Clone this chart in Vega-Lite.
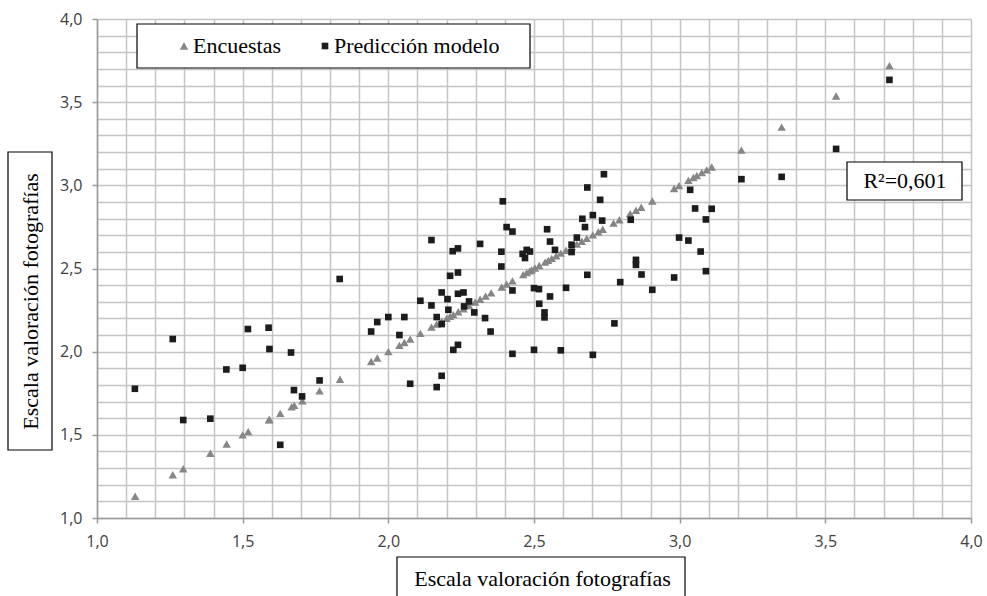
{
  "$schema": "https://vega.github.io/schema/vega-lite/v6.json",
  "width": 874,
  "height": 499,
  "autosize": {"type": "none"},
  "padding": {"left": 97, "top": 19, "right": 16, "bottom": 78},
  "background": "white",
  "config": {
    "view": {"stroke": null},
    "axis": {
      "gridColor": "#c4c4c4",
      "gridWidth": 1.5,
      "domainColor": "#9a9a9a",
      "domainWidth": 1.5,
      "tickColor": "#9a9a9a",
      "tickWidth": 1.5,
      "tickSize": 5,
      "labelFont": "Open Sans",
      "labelFontSize": 16,
      "labelColor": "#404040",
      "titleFont": "Liberation Serif",
      "titleFontSize": 22,
      "titleFontWeight": "normal",
      "titleColor": "#000000"
    }
  },
  "resolve": {"axis": {"x": "independent", "y": "independent"}},
  "datasets": {
    "puntos": [
      {"serie": "Encuestas", "x": 1.131, "y": 1.131},
      {"serie": "Encuestas", "x": 1.26, "y": 1.26},
      {"serie": "Encuestas", "x": 1.296, "y": 1.296},
      {"serie": "Encuestas", "x": 1.389, "y": 1.389},
      {"serie": "Encuestas", "x": 1.445, "y": 1.445},
      {"serie": "Encuestas", "x": 1.5, "y": 1.5},
      {"serie": "Encuestas", "x": 1.519, "y": 1.519},
      {"serie": "Encuestas", "x": 1.59, "y": 1.59},
      {"serie": "Encuestas", "x": 1.592, "y": 1.592},
      {"serie": "Encuestas", "x": 1.629, "y": 1.629},
      {"serie": "Encuestas", "x": 1.668, "y": 1.668},
      {"serie": "Encuestas", "x": 1.677, "y": 1.677},
      {"serie": "Encuestas", "x": 1.705, "y": 1.705},
      {"serie": "Encuestas", "x": 1.764, "y": 1.764},
      {"serie": "Encuestas", "x": 1.834, "y": 1.834},
      {"serie": "Encuestas", "x": 1.941, "y": 1.941},
      {"serie": "Encuestas", "x": 1.962, "y": 1.962},
      {"serie": "Encuestas", "x": 2.0, "y": 2.0},
      {"serie": "Encuestas", "x": 2.038, "y": 2.038},
      {"serie": "Encuestas", "x": 2.055, "y": 2.055},
      {"serie": "Encuestas", "x": 2.075, "y": 2.075},
      {"serie": "Encuestas", "x": 2.11, "y": 2.11},
      {"serie": "Encuestas", "x": 2.148, "y": 2.148},
      {"serie": "Encuestas", "x": 2.166, "y": 2.166},
      {"serie": "Encuestas", "x": 2.183, "y": 2.183},
      {"serie": "Encuestas", "x": 2.2, "y": 2.2},
      {"serie": "Encuestas", "x": 2.212, "y": 2.212},
      {"serie": "Encuestas", "x": 2.223, "y": 2.223},
      {"serie": "Encuestas", "x": 2.24, "y": 2.24},
      {"serie": "Encuestas", "x": 2.258, "y": 2.258},
      {"serie": "Encuestas", "x": 2.277, "y": 2.277},
      {"serie": "Encuestas", "x": 2.298, "y": 2.298},
      {"serie": "Encuestas", "x": 2.315, "y": 2.315},
      {"serie": "Encuestas", "x": 2.334, "y": 2.334},
      {"serie": "Encuestas", "x": 2.353, "y": 2.353},
      {"serie": "Encuestas", "x": 2.389, "y": 2.389},
      {"serie": "Encuestas", "x": 2.406, "y": 2.406},
      {"serie": "Encuestas", "x": 2.426, "y": 2.426},
      {"serie": "Encuestas", "x": 2.463, "y": 2.463},
      {"serie": "Encuestas", "x": 2.475, "y": 2.475},
      {"serie": "Encuestas", "x": 2.486, "y": 2.486},
      {"serie": "Encuestas", "x": 2.492, "y": 2.492},
      {"serie": "Encuestas", "x": 2.503, "y": 2.503},
      {"serie": "Encuestas", "x": 2.518, "y": 2.518},
      {"serie": "Encuestas", "x": 2.538, "y": 2.538},
      {"serie": "Encuestas", "x": 2.549, "y": 2.549},
      {"serie": "Encuestas", "x": 2.561, "y": 2.561},
      {"serie": "Encuestas", "x": 2.576, "y": 2.576},
      {"serie": "Encuestas", "x": 2.592, "y": 2.592},
      {"serie": "Encuestas", "x": 2.61, "y": 2.61},
      {"serie": "Encuestas", "x": 2.63, "y": 2.63},
      {"serie": "Encuestas", "x": 2.647, "y": 2.647},
      {"serie": "Encuestas", "x": 2.664, "y": 2.664},
      {"serie": "Encuestas", "x": 2.681, "y": 2.681},
      {"serie": "Encuestas", "x": 2.702, "y": 2.702},
      {"serie": "Encuestas", "x": 2.721, "y": 2.721},
      {"serie": "Encuestas", "x": 2.736, "y": 2.736},
      {"serie": "Encuestas", "x": 2.773, "y": 2.773},
      {"serie": "Encuestas", "x": 2.793, "y": 2.793},
      {"serie": "Encuestas", "x": 2.83, "y": 2.83},
      {"serie": "Encuestas", "x": 2.85, "y": 2.85},
      {"serie": "Encuestas", "x": 2.868, "y": 2.868},
      {"serie": "Encuestas", "x": 2.906, "y": 2.906},
      {"serie": "Encuestas", "x": 2.981, "y": 2.981},
      {"serie": "Encuestas", "x": 2.998, "y": 2.998},
      {"serie": "Encuestas", "x": 3.03, "y": 3.03},
      {"serie": "Encuestas", "x": 3.047, "y": 3.047},
      {"serie": "Encuestas", "x": 3.059, "y": 3.059},
      {"serie": "Encuestas", "x": 3.076, "y": 3.076},
      {"serie": "Encuestas", "x": 3.093, "y": 3.093},
      {"serie": "Encuestas", "x": 3.11, "y": 3.11},
      {"serie": "Encuestas", "x": 3.212, "y": 3.212},
      {"serie": "Encuestas", "x": 3.35, "y": 3.35},
      {"serie": "Encuestas", "x": 3.537, "y": 3.537},
      {"serie": "Encuestas", "x": 3.72, "y": 3.72},
      {"serie": "Predicción modelo", "x": 1.13, "y": 1.777},
      {"serie": "Predicción modelo", "x": 1.26, "y": 2.076},
      {"serie": "Predicción modelo", "x": 1.296, "y": 1.589},
      {"serie": "Predicción modelo", "x": 1.389, "y": 1.597},
      {"serie": "Predicción modelo", "x": 1.444, "y": 1.893},
      {"serie": "Predicción modelo", "x": 1.5, "y": 1.903},
      {"serie": "Predicción modelo", "x": 1.518, "y": 2.136},
      {"serie": "Predicción modelo", "x": 1.589, "y": 2.144},
      {"serie": "Predicción modelo", "x": 1.592, "y": 2.016},
      {"serie": "Predicción modelo", "x": 1.629, "y": 1.44},
      {"serie": "Predicción modelo", "x": 1.666, "y": 1.995},
      {"serie": "Predicción modelo", "x": 1.676, "y": 1.769},
      {"serie": "Predicción modelo", "x": 1.704, "y": 1.731},
      {"serie": "Predicción modelo", "x": 1.764, "y": 1.827},
      {"serie": "Predicción modelo", "x": 1.833, "y": 2.437},
      {"serie": "Predicción modelo", "x": 1.941, "y": 2.121},
      {"serie": "Predicción modelo", "x": 1.962, "y": 2.178},
      {"serie": "Predicción modelo", "x": 2.0, "y": 2.208},
      {"serie": "Predicción modelo", "x": 2.038, "y": 2.1},
      {"serie": "Predicción modelo", "x": 2.055, "y": 2.208},
      {"serie": "Predicción modelo", "x": 2.075, "y": 1.807},
      {"serie": "Predicción modelo", "x": 2.11, "y": 2.306},
      {"serie": "Predicción modelo", "x": 2.148, "y": 2.671},
      {"serie": "Predicción modelo", "x": 2.148, "y": 2.278},
      {"serie": "Predicción modelo", "x": 2.166, "y": 2.208},
      {"serie": "Predicción modelo", "x": 2.166, "y": 1.787},
      {"serie": "Predicción modelo", "x": 2.183, "y": 2.356},
      {"serie": "Predicción modelo", "x": 2.183, "y": 2.166},
      {"serie": "Predicción modelo", "x": 2.183, "y": 1.855},
      {"serie": "Predicción modelo", "x": 2.203, "y": 2.316},
      {"serie": "Predicción modelo", "x": 2.206, "y": 2.252},
      {"serie": "Predicción modelo", "x": 2.212, "y": 2.456},
      {"serie": "Predicción modelo", "x": 2.221, "y": 2.604},
      {"serie": "Predicción modelo", "x": 2.239, "y": 2.621},
      {"serie": "Predicción modelo", "x": 2.239, "y": 2.476},
      {"serie": "Predicción modelo", "x": 2.223, "y": 2.011},
      {"serie": "Predicción modelo", "x": 2.239, "y": 2.041},
      {"serie": "Predicción modelo", "x": 2.239, "y": 2.348},
      {"serie": "Predicción modelo", "x": 2.258, "y": 2.356},
      {"serie": "Predicción modelo", "x": 2.26, "y": 2.272},
      {"serie": "Predicción modelo", "x": 2.277, "y": 2.302},
      {"serie": "Predicción modelo", "x": 2.295, "y": 2.236},
      {"serie": "Predicción modelo", "x": 2.315, "y": 2.648},
      {"serie": "Predicción modelo", "x": 2.332, "y": 2.202},
      {"serie": "Predicción modelo", "x": 2.351, "y": 2.121},
      {"serie": "Predicción modelo", "x": 2.388, "y": 2.601},
      {"serie": "Predicción modelo", "x": 2.388, "y": 2.512},
      {"serie": "Predicción modelo", "x": 2.393, "y": 2.904},
      {"serie": "Predicción modelo", "x": 2.406, "y": 2.749},
      {"serie": "Predicción modelo", "x": 2.426, "y": 2.722},
      {"serie": "Predicción modelo", "x": 2.426, "y": 2.368},
      {"serie": "Predicción modelo", "x": 2.426, "y": 1.987},
      {"serie": "Predicción modelo", "x": 2.461, "y": 2.588},
      {"serie": "Predicción modelo", "x": 2.469, "y": 2.563},
      {"serie": "Predicción modelo", "x": 2.475, "y": 2.612},
      {"serie": "Predicción modelo", "x": 2.486, "y": 2.602},
      {"serie": "Predicción modelo", "x": 2.5, "y": 2.382},
      {"serie": "Predicción modelo", "x": 2.517, "y": 2.376},
      {"serie": "Predicción modelo", "x": 2.5, "y": 2.011},
      {"serie": "Predicción modelo", "x": 2.518, "y": 2.288},
      {"serie": "Predicción modelo", "x": 2.536, "y": 2.236},
      {"serie": "Predicción modelo", "x": 2.536, "y": 2.206},
      {"serie": "Predicción modelo", "x": 2.545, "y": 2.736},
      {"serie": "Predicción modelo", "x": 2.555, "y": 2.662},
      {"serie": "Predicción modelo", "x": 2.555, "y": 2.332},
      {"serie": "Predicción modelo", "x": 2.572, "y": 2.612},
      {"serie": "Predicción modelo", "x": 2.592, "y": 2.008},
      {"serie": "Predicción modelo", "x": 2.61, "y": 2.384},
      {"serie": "Predicción modelo", "x": 2.629, "y": 2.643},
      {"serie": "Predicción modelo", "x": 2.629, "y": 2.599},
      {"serie": "Predicción modelo", "x": 2.647, "y": 2.686},
      {"serie": "Predicción modelo", "x": 2.666, "y": 2.799},
      {"serie": "Predicción modelo", "x": 2.675, "y": 2.749},
      {"serie": "Predicción modelo", "x": 2.683, "y": 2.987},
      {"serie": "Predicción modelo", "x": 2.683, "y": 2.462},
      {"serie": "Predicción modelo", "x": 2.702, "y": 2.821},
      {"serie": "Predicción modelo", "x": 2.702, "y": 1.981},
      {"serie": "Predicción modelo", "x": 2.727, "y": 2.913},
      {"serie": "Predicción modelo", "x": 2.734, "y": 2.788},
      {"serie": "Predicción modelo", "x": 2.74, "y": 3.067},
      {"serie": "Predicción modelo", "x": 2.776, "y": 2.17},
      {"serie": "Predicción modelo", "x": 2.796, "y": 2.418},
      {"serie": "Predicción modelo", "x": 2.832, "y": 2.793},
      {"serie": "Predicción modelo", "x": 2.85, "y": 2.552},
      {"serie": "Predicción modelo", "x": 2.85, "y": 2.522},
      {"serie": "Predicción modelo", "x": 2.869, "y": 2.464},
      {"serie": "Predicción modelo", "x": 2.906, "y": 2.372},
      {"serie": "Predicción modelo", "x": 2.981, "y": 2.446},
      {"serie": "Predicción modelo", "x": 2.998, "y": 2.686},
      {"serie": "Predicción modelo", "x": 3.03, "y": 2.668},
      {"serie": "Predicción modelo", "x": 3.036, "y": 2.973},
      {"serie": "Predicción modelo", "x": 3.053, "y": 2.861},
      {"serie": "Predicción modelo", "x": 3.072, "y": 2.602},
      {"serie": "Predicción modelo", "x": 3.09, "y": 2.795},
      {"serie": "Predicción modelo", "x": 3.09, "y": 2.484},
      {"serie": "Predicción modelo", "x": 3.11, "y": 2.859},
      {"serie": "Predicción modelo", "x": 3.212, "y": 3.037},
      {"serie": "Predicción modelo", "x": 3.35, "y": 3.051},
      {"serie": "Predicción modelo", "x": 3.537, "y": 3.219},
      {"serie": "Predicción modelo", "x": 3.72, "y": 3.634}
    ]
  },
  "layer": [
    {
      "data": {"name": "puntos"},
      "mark": {"type": "point", "filled": true, "opacity": 1, "strokeWidth": 0},
      "encoding": {
        "x": {
          "field": "x",
          "type": "quantitative",
          "title": "Escala valoración fotografías",
          "scale": {"domain": [1, 4], "nice": false, "zero": false},
          "axis": {
            "titleX": 445,
            "titleY": 60,
            "titleBaseline": "middle",
            "titleAlign": "center",
            "values": [1.0, 1.1, 1.2, 1.3, 1.4, 1.5, 1.6, 1.7, 1.8, 1.9, 2.0, 2.1, 2.2, 2.3, 2.4, 2.5, 2.6, 2.7, 2.8, 2.9, 3.0, 3.1, 3.2, 3.3, 3.4, 3.5, 3.6, 3.7, 3.8, 3.9, 4.0],
            "labelExpr": "abs(datum.value*2 - round(datum.value*2)) < 0.001 ? replace(format(datum.value, '.1f'), '.', ',') : ''",
            "labelOverlap": false,
            "labelFlush": false,
            "labelPadding": 10,
            "tickOpacity": {"condition": {"test": "abs(datum.value*2 - round(datum.value*2)) < 0.001", "value": 1}, "value": 0}
          }
        },
        "y": {
          "field": "y",
          "type": "quantitative",
          "title": "Escala valoración fotografías",
          "scale": {"domain": [1, 4], "nice": false, "zero": false},
          "axis": {
            "titleX": -67,
            "titleY": 282,
            "titleAngle": 270,
            "titleBaseline": "middle",
            "titleAlign": "center",
            "values": [1.0, 1.1, 1.2, 1.3, 1.4, 1.5, 1.6, 1.7, 1.8, 1.9, 2.0, 2.1, 2.2, 2.3, 2.4, 2.5, 2.6, 2.7, 2.8, 2.9, 3.0, 3.1, 3.2, 3.3, 3.4, 3.5, 3.6, 3.7, 3.8, 3.9, 4.0],
            "labelExpr": "abs(datum.value*2 - round(datum.value*2)) < 0.001 ? replace(format(datum.value, '.1f'), '.', ',') : ''",
            "labelOverlap": false,
            "labelFlush": false,
            "labelPadding": 10,
            "tickOpacity": {"condition": {"test": "abs(datum.value*2 - round(datum.value*2)) < 0.001", "value": 1}, "value": 0}
          }
        },
        "color": {
          "field": "serie",
          "type": "nominal",
          "scale": {"domain": ["Encuestas", "Predicción modelo"], "range": ["#868686", "#1c1c1c"]},
          "legend": {
            "orient": "none",
            "legendX": 76,
            "legendY": 16,
            "direction": "horizontal",
            "title": null,
            "labelFont": "Liberation Serif",
            "labelFontSize": 22,
            "labelColor": "#000000",
            "labelBaseline": "middle",
            "labelLimit": 400,
            "symbolSize": 40,
            "symbolStrokeWidth": 0,
            "labelOffset": -2,
            "columnPadding": 33,
            "padding": 0
          }
        },
        "shape": {
          "field": "serie",
          "type": "nominal",
          "scale": {"domain": ["Encuestas", "Predicción modelo"], "range": ["triangle-up", "square"]}
        },
        "size": {
          "field": "serie",
          "type": "nominal",
          "scale": {"domain": ["Encuestas", "Predicción modelo"], "range": [72, 44]},
          "legend": null
        }
      }
    },
    {
      "data": {"values": [{}]},
      "mark": {"type": "rect", "fill": "white", "stroke": "#000000", "strokeWidth": 1.2},
      "encoding": {
        "x": {"datum": 1.1373, "type": "quantitative", "axis": null},
        "x2": {"datum": 2.4863},
        "y": {"datum": 3.97, "type": "quantitative", "axis": null},
        "y2": {"datum": 3.7054}
      }
    },
    {
      "data": {"values": [{}]},
      "mark": {"type": "rect", "fill": "white", "stroke": "#000000", "strokeWidth": 1.2},
      "encoding": {
        "x": {"datum": 3.5744, "type": "quantitative", "axis": null},
        "x2": {"datum": 3.9691},
        "y": {"datum": 3.1403, "type": "quantitative", "axis": null},
        "y2": {"datum": 2.9118}
      }
    },
    {
      "data": {"values": [{}]},
      "mark": {"type": "rect", "fill": null, "fillOpacity": 0, "stroke": "#000000", "strokeWidth": 1.2},
      "encoding": {
        "x": {"datum": 2.0297, "type": "quantitative", "axis": null},
        "x2": {"datum": 3.0183},
        "y": {"datum": 0.7655, "type": "quantitative", "axis": null},
        "y2": {"datum": 0.45}
      }
    },
    {
      "data": {"values": [{}]},
      "mark": {"type": "rect", "fill": null, "fillOpacity": 0, "stroke": "#000000", "strokeWidth": 1.2},
      "encoding": {
        "x": {"datum": 0.6945, "type": "quantitative", "axis": null},
        "x2": {"datum": 0.8455},
        "y": {"datum": 3.2004, "type": "quantitative", "axis": null},
        "y2": {"datum": 1.4088}
      }
    },
    {
      "data": {"values": [{}]},
      "mark": {"type": "text", "text": "R²=0,601", "font": "Liberation Serif", "fontSize": 22, "color": "#000000", "align": "center", "baseline": "middle"},
      "encoding": {
        "x": {"datum": 3.7735, "type": "quantitative", "axis": null},
        "y": {"datum": 3.026, "type": "quantitative", "axis": null}
      }
    }
  ]
}
